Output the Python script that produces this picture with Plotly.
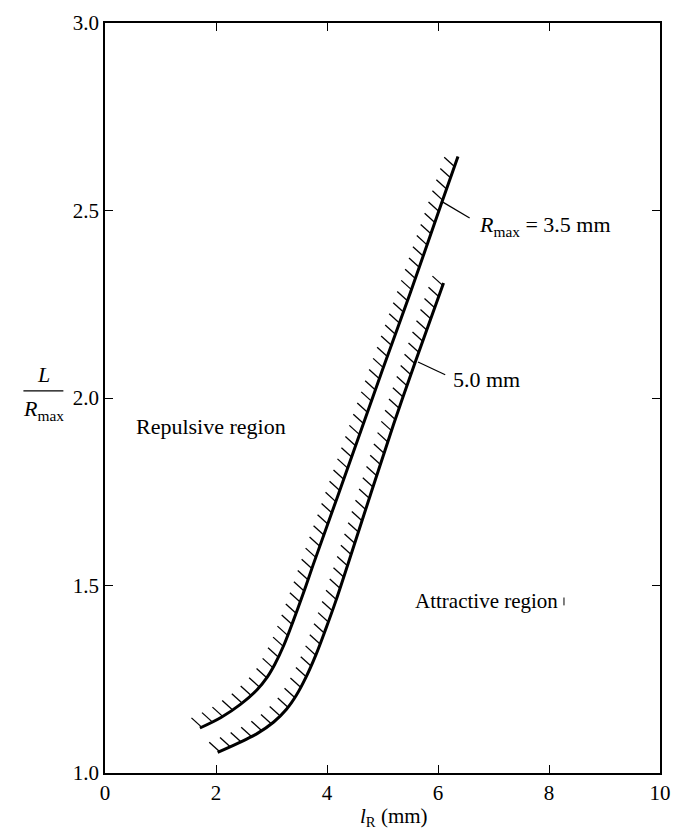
import numpy as np
import plotly.graph_objects as go

# Boundary curves: L/R_max versus l_R (mm) for two values of R_max
x_r35 = [1.71, 2.09, 2.44, 2.74, 2.92, 3.06, 3.22, 3.39, 3.57, 3.75, 4.25, 5.00, 5.50, 6.06, 6.36]
y_r35 = [1.120, 1.148, 1.183, 1.222, 1.255, 1.290, 1.340, 1.405, 1.478, 1.555, 1.762, 2.075, 2.280, 2.518, 2.644]

x_r50 = [2.03, 2.39, 2.74, 3.04, 3.27, 3.45, 3.62, 3.80, 3.98, 4.15, 4.38, 4.80, 5.20, 5.60, 6.10]
y_r50 = [1.055, 1.079, 1.105, 1.136, 1.170, 1.208, 1.255, 1.315, 1.385, 1.455, 1.558, 1.750, 1.930, 2.100, 2.307]

x_ticks = [0, 2, 4, 6, 8, 10]
y_ticks = [1.0, 1.5, 2.0, 2.5, 3.0]
y_tick_text = ["1.0", "1.5", "2.0", "2.5", "3.0"]

X_RANGE = [0, 10]
Y_RANGE = [1.0, 3.0]

W, H = 682, 832
M = dict(l=105, r=11, t=14, b=59)
PX_X = (W - M["l"] - M["r"]) / (X_RANGE[1] - X_RANGE[0])
PX_Y = (H - M["t"] - M["b"]) / (Y_RANGE[1] - Y_RANGE[0])

FONT = "Liberation Serif"


def hatch_segments(xs, ys, spacing=12.0, length=14.0, angle_deg=42.0):
    """Short strokes along a curve, pointing up-left (screen space)."""
    px = np.array(xs) * PX_X
    py = np.array(ys) * PX_Y
    seg = np.hypot(np.diff(px), np.diff(py))
    s = np.concatenate([[0], np.cumsum(seg)])
    stations = np.arange(2.0, s[-1], spacing)
    hx = np.interp(stations, s, px)
    hy = np.interp(stations, s, py)
    a = np.radians(angle_deg)
    dx = -np.cos(a) * length
    dy = np.sin(a) * length
    out_x, out_y = [], []
    for x0, y0 in zip(hx, hy):
        out_x += [x0 / PX_X, (x0 + dx) / PX_X, None]
        out_y += [y0 / PX_Y, (y0 + dy) / PX_Y, None]
    return out_x, out_y


fig = go.Figure()

for xs, ys in [(x_r35, y_r35), (x_r50, y_r50)]:
    hx, hy = hatch_segments(xs, ys)
    fig.add_trace(go.Scatter(x=hx, y=hy, mode="lines",
                             line=dict(color="black", width=1.3),
                             hoverinfo="skip", showlegend=False))
    fig.add_trace(go.Scatter(x=xs, y=ys, mode="lines",
                             line=dict(color="black", width=3, shape="spline", smoothing=1.0),
                             showlegend=False))

# Leader lines to the curve labels
fig.add_shape(type="line", x0=6.08, y0=2.523, x1=6.57, y1=2.48,
              line=dict(color="black", width=1.2))
fig.add_shape(type="line", x0=5.64, y0=2.096, x1=6.13, y1=2.062,
              line=dict(color="black", width=1.2))
# small stray mark beside the lower-right label
fig.add_shape(type="line", x0=8.27, y0=1.447, x1=8.27, y1=1.468,
              line=dict(color="black", width=1))

txt = dict(family=FONT, size=22, color="black")
fig.add_annotation(x=6.71, y=2.46, xanchor="left", yanchor="middle", showarrow=False,
                   text="<i>R</i><sub>max</sub> = 3.5 mm", font=txt)
fig.add_annotation(x=6.24, y=2.05, xanchor="left", yanchor="middle", showarrow=False,
                   text="5.0 mm", font=txt)
fig.add_annotation(x=0.52, y=1.925, xanchor="left", yanchor="middle", showarrow=False,
                   text="Repulsive region", font=txt)
fig.add_annotation(x=5.55, y=1.458, xanchor="left", yanchor="middle", showarrow=False,
                   text="Attractive region", font=dict(family=FONT, size=21, color="black"))

# Y-axis title drawn as a fraction L / R_max
fig.add_annotation(xref="paper", yref="paper", x=-0.11, y=0.512, xanchor="center", yanchor="bottom",
                   showarrow=False, text="<i>L</i>", font=txt)
fig.add_shape(type="line", xref="paper", yref="paper", x0=-0.147, x1=-0.075, y0=0.5095, y1=0.5095,
              line=dict(color="black", width=1.2))
fig.add_annotation(xref="paper", yref="paper", x=-0.11, y=0.506, xanchor="center", yanchor="top",
                   showarrow=False, text="<i>R</i><sub>max</sub>", font=txt)

# X-axis title
fig.add_annotation(x=5.2, xref="x", yref="paper", y=-0.058, xanchor="center", yanchor="middle",
                   showarrow=False, text="<i>l</i><sub>R</sub> (mm)", font=dict(family=FONT, size=21, color="black"))

axis_common = dict(showline=True, linecolor="black", linewidth=1.8, mirror="ticks",
                   ticks="inside", ticklen=8, tickwidth=1.3, tickcolor="black",
                   showgrid=False, zeroline=False,
                   tickfont=dict(family=FONT, size=21, color="black"))

fig.update_xaxes(range=X_RANGE, tickvals=x_ticks, **axis_common)
fig.update_yaxes(range=Y_RANGE, tickvals=y_ticks, ticktext=y_tick_text, **axis_common)

fig.update_layout(width=W, height=H, margin=M, paper_bgcolor="white", plot_bgcolor="white")

fig.write_html("out.html")
